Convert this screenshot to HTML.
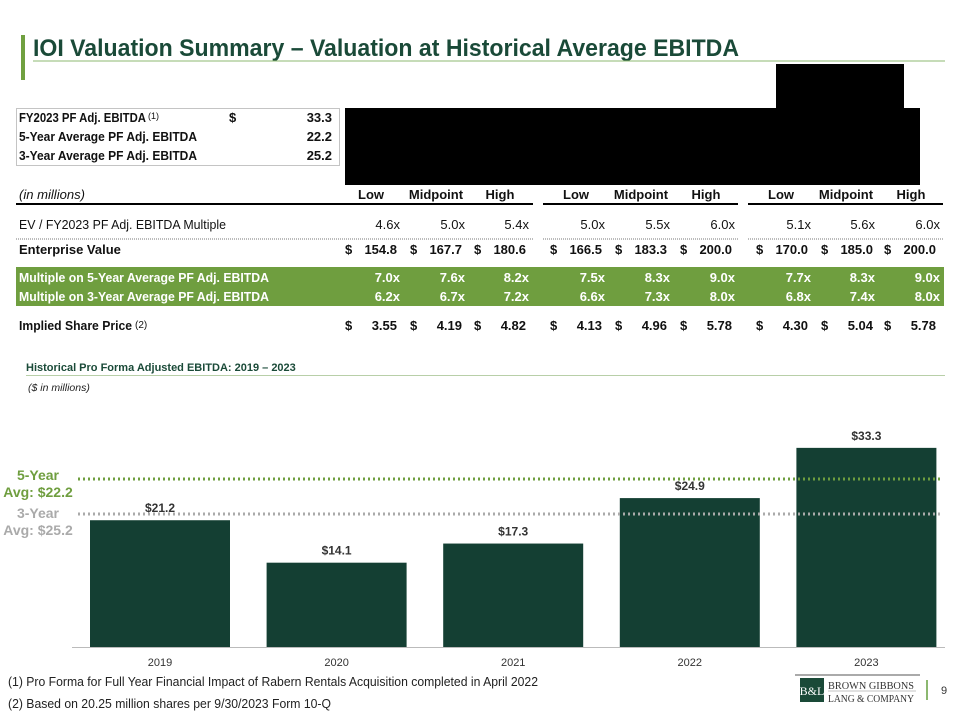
<!DOCTYPE html>
<html><head><meta charset="utf-8"><style>
body{margin:0;background:#fff;}
svg{display:block;font-family:"Liberation Sans",sans-serif;}
</style></head><body>
<svg width="960" height="720" viewBox="0 0 960 720">
<rect x="21" y="35" width="4" height="45" fill="#70a040"/>
<text x="33" y="56" font-size="24" font-weight="bold" fill="#1a4a38" textLength="706" lengthAdjust="spacingAndGlyphs">IOI Valuation Summary – Valuation at Historical Average EBITDA</text>
<line x1="33" y1="61" x2="945" y2="61" stroke="#8cb870" stroke-width="1"/>

<rect x="776" y="64" width="128" height="45" fill="#000"/>
<rect x="345" y="108" width="575" height="77" fill="#000"/>

<g font-size="13" font-weight="bold" fill="#111">
<rect x="16.5" y="108.5" width="323" height="57" fill="none" stroke="#888" stroke-dasharray="1,1"/>
<text x="19" y="122" textLength="127" lengthAdjust="spacingAndGlyphs">FY2023 PF Adj. EBITDA</text><text x="148" y="119" font-size="9" font-weight="normal">(1)</text>
<text x="229" y="122">$</text><text x="332" y="122" text-anchor="end">33.3</text>
<text x="19" y="141" textLength="178" lengthAdjust="spacingAndGlyphs">5-Year Average PF Adj. EBITDA</text><text x="332" y="141" text-anchor="end">22.2</text>
<text x="19" y="160" textLength="178" lengthAdjust="spacingAndGlyphs">3-Year Average PF Adj. EBITDA</text><text x="332" y="160" text-anchor="end">25.2</text>
</g>

<g font-size="13" fill="#111">
<text x="19" y="199" font-style="italic" textLength="66" lengthAdjust="spacingAndGlyphs">(in millions)</text>
<g font-weight="bold" text-anchor="middle">
<text x="371" y="199">Low</text><text x="436" y="199">Midpoint</text><text x="500" y="199">High</text>
<text x="576" y="199">Low</text><text x="641" y="199">Midpoint</text><text x="706" y="199">High</text>
<text x="781" y="199">Low</text><text x="846" y="199">Midpoint</text><text x="911" y="199">High</text>
</g>
<line x1="16" y1="204" x2="533" y2="204" stroke="#000" stroke-width="2"/>
<line x1="543" y1="204" x2="738" y2="204" stroke="#000" stroke-width="2"/>
<line x1="748" y1="204" x2="943" y2="204" stroke="#000" stroke-width="2"/>
<text x="19" y="229" textLength="207" lengthAdjust="spacingAndGlyphs">EV / FY2023 PF Adj. EBITDA Multiple</text>
<g text-anchor="end" id="mult"></g>
<line x1="16" y1="239" x2="533" y2="239" stroke="#777" stroke-dasharray="1,1"/>
<line x1="543" y1="239" x2="738" y2="239" stroke="#777" stroke-dasharray="1,1"/>
<line x1="748" y1="239" x2="943" y2="239" stroke="#777" stroke-dasharray="1,1"/>
<text x="19" y="254" font-weight="bold">Enterprise Value</text>
<g id="ev" font-weight="bold"></g>
<rect x="16" y="267" width="928" height="39" fill="#6f9e3f"/>
<text x="19" y="282" font-weight="bold" fill="#fff" textLength="250" lengthAdjust="spacingAndGlyphs">Multiple on 5-Year Average PF Adj. EBITDA</text>
<text x="19" y="301" font-weight="bold" fill="#fff" textLength="250" lengthAdjust="spacingAndGlyphs">Multiple on 3-Year Average PF Adj. EBITDA</text>
<g id="m5" font-weight="bold" fill="#fff" text-anchor="end"></g>
<g id="m3" font-weight="bold" fill="#fff" text-anchor="end"></g>
<text x="19" y="330" font-weight="bold" textLength="113" lengthAdjust="spacingAndGlyphs">Implied Share Price</text><text x="135" y="328" font-size="10">(2)</text>
<g id="px" font-weight="bold"></g>
</g>

<text x="26" y="371" font-size="11" font-weight="bold" fill="#1a4a38">Historical Pro Forma Adjusted EBITDA: 2019 – 2023</text>
<line x1="26" y1="375.5" x2="945" y2="375.5" stroke="#b8cfa8"/>
<text x="28" y="391" font-size="10.5" font-style="italic" fill="#222">($ in millions)</text>

<g id="chart"></g>

<text x="8" y="686" font-size="12.5" fill="#222" textLength="530" lengthAdjust="spacingAndGlyphs">(1) Pro Forma for Full Year Financial Impact of Rabern Rentals Acquisition completed in April 2022</text>
<text x="8" y="708" font-size="12.5" fill="#222" textLength="323" lengthAdjust="spacingAndGlyphs">(2) Based on 20.25 million shares per 9/30/2023 Form 10-Q</text>

<g>
<line x1="795" y1="675" x2="920" y2="675" stroke="#555"/>
<rect x="800" y="678" width="24" height="24" fill="#1a4a38"/>
<text x="812" y="695" font-size="12" fill="#fff" text-anchor="middle" font-family="Liberation Serif,serif">B&amp;L</text>
<text x="828" y="689" font-size="11" fill="#333" font-family="Liberation Serif,serif" textLength="86" lengthAdjust="spacingAndGlyphs">BROWN GIBBONS</text>
<line x1="828" y1="691" x2="916" y2="691" stroke="#888" stroke-width="0.6"/>
<text x="828" y="702" font-size="11" fill="#333" font-family="Liberation Serif,serif" textLength="86" lengthAdjust="spacingAndGlyphs">LANG &amp; COMPANY</text>
<line x1="927" y1="680" x2="927" y2="700" stroke="#8cb870" stroke-width="2"/>
<text x="944" y="694" font-size="11" fill="#333" text-anchor="middle">9</text>
</g>
</svg>
<script>
const NS='http://www.w3.org/2000/svg';
const multiples=['4.6x','5.0x','5.4x','5.0x','5.5x','6.0x','5.1x','5.6x','6.0x'];
const evValues=['154.8','167.7','180.6','166.5','183.3','200.0','170.0','185.0','200.0'];
const mult5=['7.0x','7.6x','8.2x','7.5x','8.3x','9.0x','7.7x','8.3x','9.0x'];
const mult3=['6.2x','6.7x','7.2x','6.6x','7.3x','8.0x','6.8x','7.4x','8.0x'];
const prices=['3.55','4.19','4.82','4.13','4.96','5.78','4.30','5.04','5.78'];
const years=['2019','2020','2021','2022','2023'];
const ebitda=[21.2,14.1,17.3,24.9,33.3];
const valRight=[397,462,526,602,667,732,808,873,936];
const multRight=[400,465,529,605,670,735,811,875,940];
function t(parent,x,y,s,anchor){const e=document.createElementNS(NS,'text');e.setAttribute('x',x);e.setAttribute('y',y);if(anchor)e.setAttribute('text-anchor',anchor);e.textContent=s;parent.appendChild(e);return e;}
const gm=document.getElementById('mult'),ge=document.getElementById('ev'),g5=document.getElementById('m5'),g3=document.getElementById('m3'),gp=document.getElementById('px');
multiples.forEach((v,i)=>{const e=t(gm,multRight[i],229,v,'end');

});
mult5.forEach((v,i)=>{const e=t(g5,multRight[i],282,v,'end');

});
mult3.forEach((v,i)=>{const e=t(g3,multRight[i],301,v,'end');

});
evValues.forEach((v,i)=>{t(ge,valRight[i]-52,254,'$');const e=t(ge,valRight[i],254,v,'end');

});
prices.forEach((v,i)=>{t(gp,valRight[i]-52,330,'$');const e=t(gp,valRight[i],330,v,'end');

});

const ch=document.getElementById('chart');
const base=647, scale=5.98, x0=160, step=176.6, bw=140;
const yS=v=>base-v*scale;
function mk(tag,attrs){const e=document.createElementNS(NS,tag);for(const k in attrs)e.setAttribute(k,attrs[k]);ch.appendChild(e);return e;}
ebitda.forEach((v,i)=>{const cx=x0+i*step;
const r=mk('rect',{x:cx-bw/2,y:yS(v),width:bw,height:base-yS(v),fill:'#143f33'});


const l=mk('text',{x:cx,y:yS(v)-8,'font-size':12,'font-weight':'bold','fill':'#333','text-anchor':'middle'});l.textContent='$'+v.toFixed(1);


const y=mk('text',{x:cx,y:666,'font-size':11,'fill':'#333','text-anchor':'middle'});y.textContent=years[i];

});
const ax=mk('line',{x1:72,y1:base+0.5,x2:945,y2:base+0.5,stroke:'#bbb'});


const l5=mk('line',{x1:78,y1:479,x2:940,y2:479,stroke:'#6f9e3f','stroke-width':3,'stroke-dasharray':'2,3'});


const l3=mk('line',{x1:78,y1:514,x2:940,y2:514,stroke:'#aaa','stroke-width':3,'stroke-dasharray':'2,3'});


[['5-Year',480,'#6f9e3f'],['Avg: $22.2',497,'#6f9e3f'],['3-Year',518,'#aaa'],['Avg: $25.2',535,'#aaa']].forEach(a=>{const e=mk('text',{x:38,y:a[1],'font-size':14,'font-weight':'bold',fill:a[2],'text-anchor':'middle'});e.textContent=a[0];

});
</script>
</body></html>
